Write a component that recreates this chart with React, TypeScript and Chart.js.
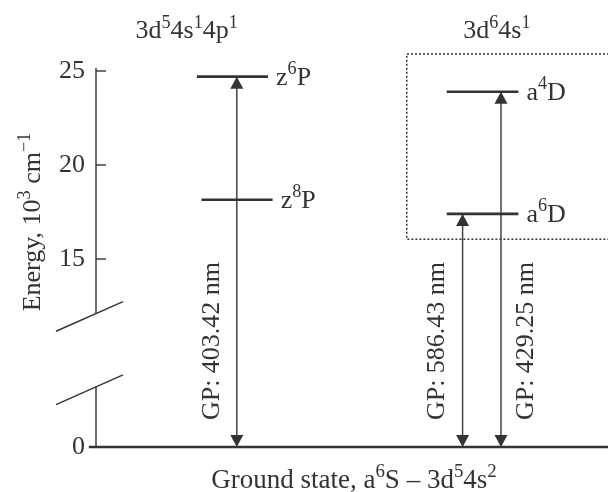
import React, { useEffect, useRef } from "react";
import { Chart, registerables } from "chart.js";

Chart.register(...registerables);

// ---------- data ----------
const configLabels = [
  [{ t: "3d" }, { t: "5", sup: true }, { t: "4s" }, { t: "1", sup: true }, { t: "4p" }, { t: "1", sup: true }],
  [{ t: "3d" }, { t: "6", sup: true }, { t: "4s" }, { t: "1", sup: true }],
];
const configX = [1.77, 7.83];

const levelLetter = ["z", "z", "a", "a"];
const levelMult = ["6", "8", "4", "6"];
const levelTerm = ["P", "P", "D", "D"];
const levelEnergy = [24.7, 18.15, 23.9, 17.4]; // 10^3 cm^-1
const levelXStart = [1.97, 2.06, 6.85, 6.85];
const levelXEnd = [3.36, 3.45, 8.25, 8.25];

const transitionLabels = ["GP: 403.42 nm", "GP: 586.43 nm", "GP: 429.25 nm"];
const transitionUpper = [24.7, 17.4, 23.9];
const transitionX = [2.75, 7.16, 7.91];
const transitionSide = [-1, -1, 1];

const groundEnergy = 0;
const groundXStart = -0.14;
const groundXEnd = 10.5;

const yTickValues = [0, 15, 20, 25];
const yTickLabels = ["0", "15", "20", "25"];

const boxX = 6.07;
const boxTop = 25.9;
const boxBottom = 16.05;

// broken axis: energies below the break are shifted up
const AXIS_BREAK = 10;
const BREAK_SHIFT = 5;
const disp = (e: number) => (e >= AXIS_BREAK ? e : e + BREAK_SHIFT);

const FONT = '"Liberation Serif", "Times New Roman", serif';
const INK = "#333333";

type Seg = { t: string; sup?: boolean };

function drawRich(ctx: CanvasRenderingContext2D, segs: Seg[], x: number, y: number, size: number, align: "left" | "center") {
  const supSize = size * 0.7;
  let w = 0;
  for (const s of segs) {
    ctx.font = `${s.sup ? supSize : size}px ${FONT}`;
    w += ctx.measureText(s.t).width;
  }
  let cx = align === "center" ? x - w / 2 : x;
  ctx.textAlign = "left";
  ctx.textBaseline = "alphabetic";
  for (const s of segs) {
    ctx.font = `${s.sup ? supSize : size}px ${FONT}`;
    ctx.fillText(s.t, cx, s.sup ? y - size * 0.4 : y);
    cx += ctx.measureText(s.t).width;
  }
}

const diagramPlugin = {
  id: "diagram",
  afterDatasetsDraw(chart: any) {
    const ctx: CanvasRenderingContext2D = chart.ctx;
    const xs = chart.scales.x;
    const ys = chart.scales.y;
    const ax = chart.chartArea.left;
    ctx.save();
    ctx.strokeStyle = INK;
    ctx.fillStyle = INK;

    // axis segments
    const yTop = ys.getPixelForValue(disp(25)) - 3;
    const yBreakHi = ys.getPixelForValue(12.1);
    const yBreakLo = ys.getPixelForValue(8.2);
    const y0 = ys.getPixelForValue(disp(0));
    ctx.lineWidth = 1.4;
    ctx.beginPath();
    ctx.moveTo(ax, yTop);
    ctx.lineTo(ax, yBreakHi);
    ctx.moveTo(ax, yBreakLo);
    ctx.lineTo(ax, y0);
    ctx.stroke();

    // inward ticks
    for (const v of yTickValues) {
      if (v === 0) continue;
      const py = ys.getPixelForValue(disp(v));
      ctx.beginPath();
      ctx.moveTo(ax, py);
      ctx.lineTo(ax + 10, py);
      ctx.stroke();
    }

    // break marks
    const slope = -0.443;
    for (const yb of [yBreakHi, yBreakLo]) {
      ctx.beginPath();
      ctx.moveTo(ax - 40, yb - 40 * slope);
      ctx.lineTo(ax + 27, yb + 27 * slope);
      ctx.stroke();
    }

    // dotted box
    ctx.lineWidth = 1.5;
    ctx.setLineDash([2, 2]);
    const bx = xs.getPixelForValue(boxX);
    const bt = ys.getPixelForValue(boxTop);
    const bb = ys.getPixelForValue(boxBottom);
    ctx.beginPath();
    ctx.moveTo(chart.width + 5, bt);
    ctx.lineTo(bx, bt);
    ctx.lineTo(bx, bb);
    ctx.lineTo(chart.width + 5, bb);
    ctx.stroke();
    ctx.setLineDash([]);

    // arrow heads
    const hw = 6.5;
    const hh = 12;
    transitionX.forEach((tx, i) => {
      const px = xs.getPixelForValue(tx);
      const pt = ys.getPixelForValue(disp(transitionUpper[i]));
      const pb = ys.getPixelForValue(disp(groundEnergy));
      ctx.beginPath();
      ctx.moveTo(px, pt);
      ctx.lineTo(px - hw, pt + hh);
      ctx.lineTo(px + hw, pt + hh);
      ctx.closePath();
      ctx.fill();
      ctx.beginPath();
      ctx.moveTo(px, pb);
      ctx.lineTo(px - hw, pb - hh);
      ctx.lineTo(px + hw, pb - hh);
      ctx.closePath();
      ctx.fill();

      // rotated label
      ctx.save();
      ctx.translate(px + transitionSide[i] * 25, pb - 106);
      ctx.rotate(-Math.PI / 2);
      ctx.font = `26px ${FONT}`;
      ctx.textAlign = "center";
      ctx.textBaseline = "middle";
      ctx.fillText(transitionLabels[i], 0, 0);
      ctx.restore();
    });

    // level labels
    levelEnergy.forEach((e, i) => {
      const px = xs.getPixelForValue(levelXEnd[i]) + 8;
      const py = ys.getPixelForValue(disp(e)) + 8;
      drawRich(ctx, [{ t: levelLetter[i] }, { t: levelMult[i], sup: true }, { t: levelTerm[i] }], px, py, 26, "left");
    });

    // configuration titles
    configLabels.forEach((segs, i) => {
      drawRich(ctx, segs, xs.getPixelForValue(configX[i]), 38, 26, "center");
    });

    // x title
    drawRich(
      ctx,
      [{ t: "Ground state, a" }, { t: "6", sup: true }, { t: "S – 3d" }, { t: "5", sup: true }, { t: "4s" }, { t: "2", sup: true }],
      354,
      488,
      27,
      "center"
    );

    // y title
    ctx.save();
    ctx.translate(40, 222);
    ctx.rotate(-Math.PI / 2);
    drawRich(ctx, [{ t: "Energy, 10" }, { t: "3", sup: true }, { t: " cm" }, { t: "−1", sup: true }], 0, 0, 26, "center");
    ctx.restore();

    ctx.restore();
  },
};

export default function App() {
  const ref = useRef<HTMLCanvasElement>(null);
  useEffect(() => {
    if (!ref.current) return;
    const datasets: any[] = [];
    levelEnergy.forEach((e, i) => {
      datasets.push({
        data: [
          { x: levelXStart[i], y: disp(e) },
          { x: levelXEnd[i], y: disp(e) },
        ],
        borderColor: INK,
        borderWidth: 2.6,
        pointRadius: 0,
      });
    });
    transitionX.forEach((tx, i) => {
      datasets.push({
        data: [
          { x: tx, y: disp(groundEnergy) },
          { x: tx, y: disp(transitionUpper[i]) },
        ],
        borderColor: "#444444",
        borderWidth: 1.5,
        pointRadius: 0,
      });
    });
    datasets.push({
      data: [
        { x: groundXStart, y: disp(groundEnergy) },
        { x: groundXEnd, y: disp(groundEnergy) },
      ],
      borderColor: INK,
      borderWidth: 2.6,
      pointRadius: 0,
      clip: false,
    });

    const chart = new Chart(ref.current, {
      type: "line",
      data: { datasets },
      options: {
        animation: false,
        responsive: true,
        maintainAspectRatio: false,
        events: [],
        layout: { padding: { top: 14.6, bottom: 45, left: 0, right: 0 } },
        plugins: { legend: { display: false }, tooltip: { enabled: false }, title: { display: false } },
        scales: {
          x: { type: "linear", min: 0, max: 10, display: false },
          y: {
            type: "linear",
            min: 5,
            max: 28,
            grid: { display: false, drawTicks: false },
            border: { display: false },
            afterBuildTicks: (scale: any) => {
              scale.ticks = yTickValues.map((v) => ({ value: disp(v) }));
            },
            afterFit: (scale: any) => {
              scale.width = 96;
              scale.paddingTop = 0;
              scale.paddingBottom = 0;
            },
            ticks: {
              padding: 11,
              color: INK,
              font: { family: FONT, size: 26 },
              callback: (val: any) => {
                const idx = yTickValues.findIndex((v) => disp(v) === val);
                return idx >= 0 ? yTickLabels[idx] : "";
              },
            },
          },
        },
      },
      plugins: [diagramPlugin],
    });
    return () => chart.destroy();
  }, []);

  return (
    <div style={{ position: "fixed", left: 0, top: 0, width: 608, height: 492, background: "#fff" }}>
      <canvas ref={ref} />
    </div>
  );
}
